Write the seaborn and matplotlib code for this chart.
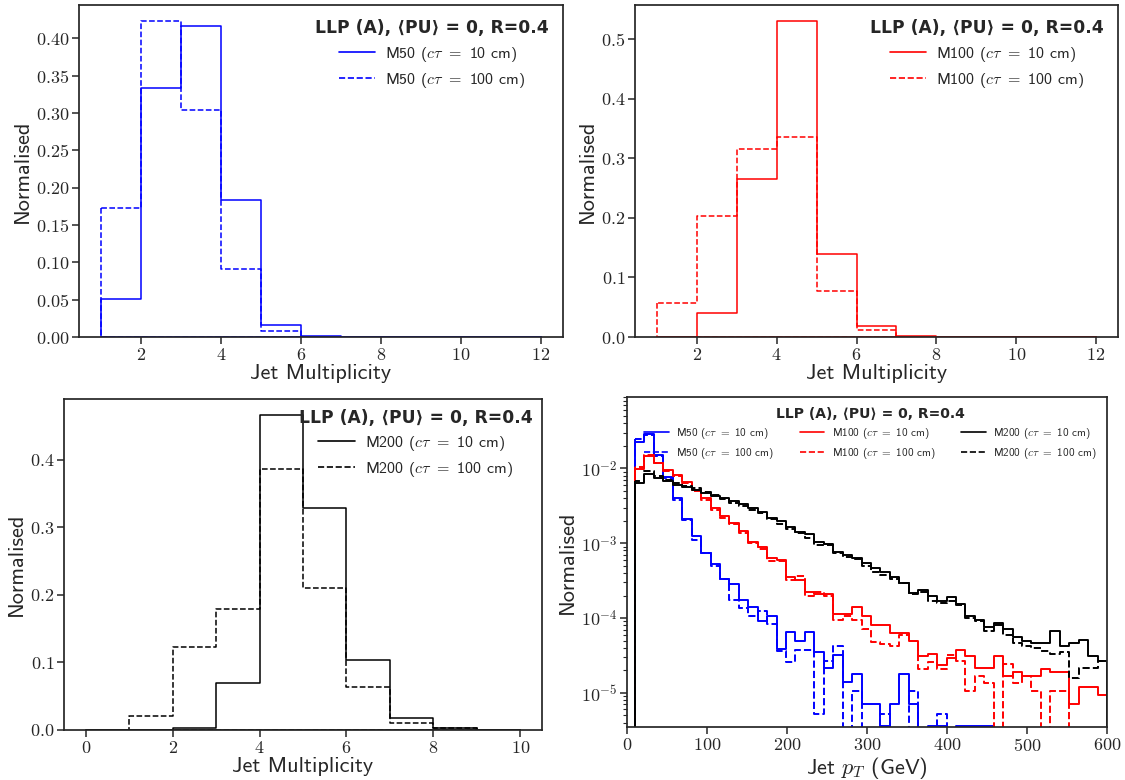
import numpy as np
import pandas as pd
import matplotlib
matplotlib.use("Agg")
import matplotlib.pyplot as plt
import seaborn as sns
from matplotlib.lines import Line2D
from matplotlib.ticker import FuncFormatter, MultipleLocator, FixedLocator, NullFormatter, LogLocator

# ---------------- data ----------------
mult_edges_top = [1, 2, 3, 4, 5, 6, 7, 8, 9, 10, 11, 12]
mult_edges_bottom = [0, 1, 2, 3, 4, 5, 6, 7, 8, 9, 10]

m50_ct10_mult = [0.051, 0.333, 0.416, 0.183, 0.016, 0.001, 0, 0, 0, 0, 0]
m50_ct100_mult = [0.173, 0.423, 0.304, 0.091, 0.008, 0.0005, 0, 0, 0, 0, 0]
m100_ct10_mult = [0.0005, 0.041, 0.265, 0.531, 0.140, 0.019, 0.001, 0, 0, 0, 0]
m100_ct100_mult = [0.057, 0.203, 0.315, 0.336, 0.077, 0.011, 0.0005, 0, 0, 0, 0]
m200_ct10_mult = [0, 0, 0.0025, 0.070, 0.467, 0.329, 0.104, 0.018, 0.0035, 0.0005]
m200_ct100_mult = [0, 0.021, 0.123, 0.179, 0.387, 0.210, 0.064, 0.011, 0.0025, 0.0003]

pt_low, pt_high, pt_nbins = 10, 600, 50

m50_ct10_pt = [0.0227, 0.0284, 0.0151, 0.0076, 0.0040, 0.0021, 0.00126, 0.00075, 0.00053, 0.000334,
               0.000287, 0.000172, 0.000142, 9.2e-5, 1.05e-4, 3.9e-5, 6.6e-5, 4.9e-5, 6.6e-5, 3.56e-5,
               2.15e-5, 3.2e-5, 1.4e-5, 1.79e-5, 7.1e-6, 7.1e-6, 3.6e-6, 7.1e-6, 1.79e-5, 7.1e-6,
               0, 3.6e-6, 3.6e-6, 0, 3.6e-6, 3.6e-6, 3.6e-6, 3.6e-6, 0, 0,
               0, 0, 0, 0, 0, 0, 0, 0, 0, 0]
m50_ct100_pt = [0.0244, 0.0280, 0.0148, 0.0074, 0.0038, 0.00205, 0.00109, 0.00074, 0.00049, 0.00033,
                0.000172, 0.000136, 0.000105, 0.000126, 8.3e-5, 3.66e-5, 2.62e-5, 3.7e-5, 3.7e-5, 5.2e-6,
                2.64e-5, 4.2e-5, 0, 1.05e-5, 0, 0, 5.2e-6, 0, 0, 1.05e-5,
                0, 0, 5.2e-6, 0, 0, 0, 0, 0, 0, 0,
                0, 0, 0, 0, 0, 0, 0, 0, 0, 0]
m100_ct10_pt = [0.0097, 0.0145, 0.0117, 0.0095, 0.0081, 0.0066, 0.0052, 0.0040, 0.0030, 0.0023,
                0.00185, 0.00146, 0.00105, 0.00090, 0.00063, 0.00060, 0.00035, 0.00032, 0.00022, 0.00021,
                0.00021, 0.000114, 0.000114, 0.000140, 0.000105, 8.1e-5, 8.0e-5, 6.3e-5, 6.3e-5, 5.0e-5,
                3.1e-5, 3.3e-5, 2.34e-5, 2.9e-5, 3.8e-5, 3.1e-5, 2.13e-5, 2.13e-5, 3.1e-5, 1.67e-5,
                1.89e-5, 1.66e-5, 1.66e-5, 2.1e-5, 1.9e-5, 1.9e-5, 7.1e-6, 1.19e-5, 1.19e-5, 9.5e-6]
m100_ct100_pt = [0.0105, 0.0152, 0.0118, 0.0093, 0.0080, 0.0063, 0.0050, 0.0038, 0.0028, 0.00215,
                 0.0018, 0.00135, 0.0010, 0.00085, 0.00058, 0.00058, 0.00032, 0.00037, 0.00020, 0.00022,
                 0.00020, 9.5e-5, 0.000105, 9.5e-5, 7.1e-5, 4.8e-5, 4.5e-5, 4.2e-5, 6.0e-5, 5.0e-5,
                 2.1e-5, 2.6e-5, 2.1e-5, 3.2e-5, 2.7e-5, 1.05e-5, 1.7e-5, 1.35e-5, 0, 2.4e-5,
                 1.35e-5, 1.66e-5, 1.05e-5, 0, 1.05e-5, 1.05e-5, 0, 0, 0, 0]
m200_ct10_pt = [0.0063, 0.0084, 0.0075, 0.0068, 0.0060, 0.0057, 0.0052, 0.0047, 0.0043, 0.0040,
                0.0037, 0.0033, 0.0030, 0.0026, 0.0022, 0.0020, 0.00167, 0.00143, 0.00132, 0.00105,
                0.00098, 0.00077, 0.00070, 0.00063, 0.00054, 0.00046, 0.00041, 0.00035, 0.00029, 0.000216,
                0.00024, 0.00020, 0.000167, 0.00019, 0.000154, 0.000105, 9.5e-5, 7.6e-5, 8.6e-5, 7.2e-5,
                5.6e-5, 5.0e-5, 4.6e-5, 4.6e-5, 6.7e-5, 4.2e-5, 4.6e-5, 5.1e-5, 3.1e-5, 2.7e-5]
m200_ct100_pt = [0.0068, 0.0093, 0.0078, 0.0070, 0.0063, 0.0058, 0.0054, 0.0049, 0.0044, 0.0039,
                 0.0035, 0.0031, 0.0028, 0.0025, 0.0021, 0.0018, 0.00155, 0.00135, 0.00118, 0.00095,
                 0.00095, 0.00075, 0.00065, 0.00062, 0.00050, 0.00041, 0.00038, 0.00033, 0.00029, 0.00021,
                 0.00022, 0.00017, 0.00016, 0.00017, 0.00015, 0.00010, 9.0e-5, 6.8e-5, 8.0e-5, 6.0e-5,
                 4.6e-5, 4.2e-5, 4.0e-5, 3.6e-5, 3.3e-5, 3.5e-5, 1.6e-5, 2.15e-5, 2.15e-5, 2.7e-5]

title_text = "LLP (A), \u27e8PU\u27e9 = 0, R=0.4"
lab_m50 = [r"M50 ($c\tau$ $=$ 10 cm)", r"M50 ($c\tau$ $=$ 100 cm)"]
lab_m100 = [r"M100 ($c\tau$ $=$ 10 cm)", r"M100 ($c\tau$ $=$ 100 cm)"]
lab_m200 = [r"M200 ($c\tau$ $=$ 10 cm)", r"M200 ($c\tau$ $=$ 100 cm)"]

# ---------------- style ----------------
sns.set_theme(style="ticks")
plt.rcParams["mathtext.fontset"] = "cm"
plt.rcParams["font.family"] = ["cmss10", "DejaVu Sans"]
plt.rcParams["axes.unicode_minus"] = False

W, H = 1125, 780
fig = plt.figure(figsize=(W / 100, H / 100), dpi=100)


def px_axes(left, right, top, bottom):
    return fig.add_axes([left / W, (H - bottom) / H, (right - left) / W, (bottom - top) / H])


LBL = dict(family="cmss10", size=16)
TICK_SIZE = 13


def draw_hist(ax, edges, values, color, ls, lw):
    edge_list = [float(e) for e in edges]
    centers = [0.5 * (a + b) for a, b in zip(edge_list[:-1], edge_list[1:])]
    df = pd.DataFrame({"x": centers, "w": values})
    sns.histplot(data=df, x="x", weights="w", bins=edge_list, element="step", fill=True,
                 color=color, facecolor="none", edgecolor=color, linestyle=ls,
                 linewidth=lw, ax=ax)


def style_ticks(ax):
    ax.tick_params(axis="both", which="major", length=5, width=1.1, pad=2,
                   labelsize=TICK_SIZE, direction="out")


def style_axes(ax, yfmt):
    ax.xaxis.set_major_formatter(FuncFormatter(lambda v, p: r"$%d$" % round(v)))
    ax.yaxis.set_major_formatter(FuncFormatter(lambda v, p: ("$" + yfmt + "$") % v))
    style_ticks(ax)
    ax.set_xlabel("Jet Multiplicity", **LBL, labelpad=1)
    ax.set_ylabel("Normalised", **LBL, labelpad=3)


def add_legend(ax, colors, labels, size=11.5, tsize=12.3, **kw):
    handles = [Line2D([], [], color=colors[0], ls="-", lw=1.2),
               Line2D([], [], color=colors[1], ls="--", lw=1.2)]
    ax.legend(handles, labels, title=title_text, frameon=False,
              prop={"family": "cmss10", "size": size}, handlelength=2.3, handletextpad=0.6,
              labelspacing=0.45,
              title_fontproperties={"family": "DejaVu Sans", "weight": "bold", "size": tsize}, **kw)


# ---- top left: M50 ----
ax1 = px_axes(79, 563, 5, 337)
draw_hist(ax1, mult_edges_top, m50_ct10_mult, "blue", "-", 1.1)
draw_hist(ax1, mult_edges_top, m50_ct100_mult, "blue", "--", 1.1)
ax1.set_xlim(0.45, 12.55)
ax1.set_ylim(0, 0.4447)
ax1.xaxis.set_major_locator(FixedLocator([2, 4, 6, 8, 10, 12]))
ax1.yaxis.set_major_locator(MultipleLocator(0.05))
style_axes(ax1, "%.2f")
add_legend(ax1, ["blue", "blue"], lab_m50, loc="upper right")

# ---- top right: M100 ----
ax2 = px_axes(635, 1118, 5, 337)
draw_hist(ax2, mult_edges_top, m100_ct10_mult, "red", "-", 1.1)
draw_hist(ax2, mult_edges_top, m100_ct100_mult, "red", "--", 1.1)
ax2.set_xlim(0.45, 12.55)
ax2.set_ylim(0, 0.5575)
ax2.xaxis.set_major_locator(FixedLocator([2, 4, 6, 8, 10, 12]))
ax2.yaxis.set_major_locator(MultipleLocator(0.1))
style_axes(ax2, "%.1f")
add_legend(ax2, ["red", "red"], lab_m100, loc="upper right")

# ---- bottom left: M200 ----
ax3 = px_axes(64, 542, 399, 730)
draw_hist(ax3, mult_edges_bottom, m200_ct10_mult, "black", "-", 1.1)
draw_hist(ax3, mult_edges_bottom, m200_ct100_mult, "black", "--", 1.1)
ax3.set_xlim(-0.5, 10.5)
ax3.set_ylim(0, 0.490)
ax3.xaxis.set_major_locator(FixedLocator([0, 2, 4, 6, 8, 10]))
ax3.yaxis.set_major_locator(MultipleLocator(0.1))
style_axes(ax3, "%.1f")
add_legend(ax3, ["black", "black"], lab_m200, loc="upper right", borderaxespad=0.2)

# ---- bottom right: jet pT ----
ax4 = px_axes(627, 1107, 397, 727)
ax4.set_yscale("log")
pt_edges = np.linspace(pt_low, pt_high, pt_nbins + 1).tolist()
series_pt = [(m50_ct10_pt, "blue", "-"), (m50_ct100_pt, "blue", "--"),
             (m100_ct10_pt, "red", "-"), (m100_ct100_pt, "red", "--"),
             (m200_ct10_pt, "black", "-"), (m200_ct100_pt, "black", "--")]
for vals, col, ls in series_pt:
    draw_hist(ax4, pt_edges, vals, col, ls, 1.4)
ax4.set_xlim(0, 600)
ax4.set_ylim(3.5e-6, 0.09)
ax4.xaxis.set_major_locator(FixedLocator([0, 100, 200, 300, 400, 500, 600]))
ax4.xaxis.set_major_formatter(FuncFormatter(lambda v, p: r"$%d$" % round(v)))
ax4.yaxis.set_major_locator(LogLocator(base=10))
ax4.yaxis.set_minor_locator(LogLocator(base=10, subs=np.arange(2, 10)))
ax4.yaxis.set_major_formatter(FuncFormatter(lambda v, p: r"$10^{%d}$" % round(np.log10(v))))
ax4.yaxis.set_minor_formatter(NullFormatter())
style_ticks(ax4)
ax4.tick_params(axis="y", which="minor", length=3, width=0.8, direction="out")
ax4.set_xlabel(r"Jet $p_T$ (GeV)", **LBL, labelpad=1)
ax4.set_ylabel("Normalised", **LBL, labelpad=3)
handles4 = []
labels4 = []
for col, labs in (("blue", lab_m50), ("red", lab_m100), ("black", lab_m200)):
    handles4 += [Line2D([], [], color=col, ls="-", lw=1.2), Line2D([], [], color=col, ls="--", lw=1.2)]
    labels4 += labs
ax4.legend(handles4, labels4, title=title_text, ncol=3, frameon=False, loc="upper right",
           prop={"family": "cmss10", "size": 8}, handlelength=2.2, handletextpad=0.7,
           columnspacing=2.3, labelspacing=0.45,
           title_fontproperties={"family": "DejaVu Sans", "weight": "bold", "size": 10})

fig.savefig("out.png", dpi=100)
